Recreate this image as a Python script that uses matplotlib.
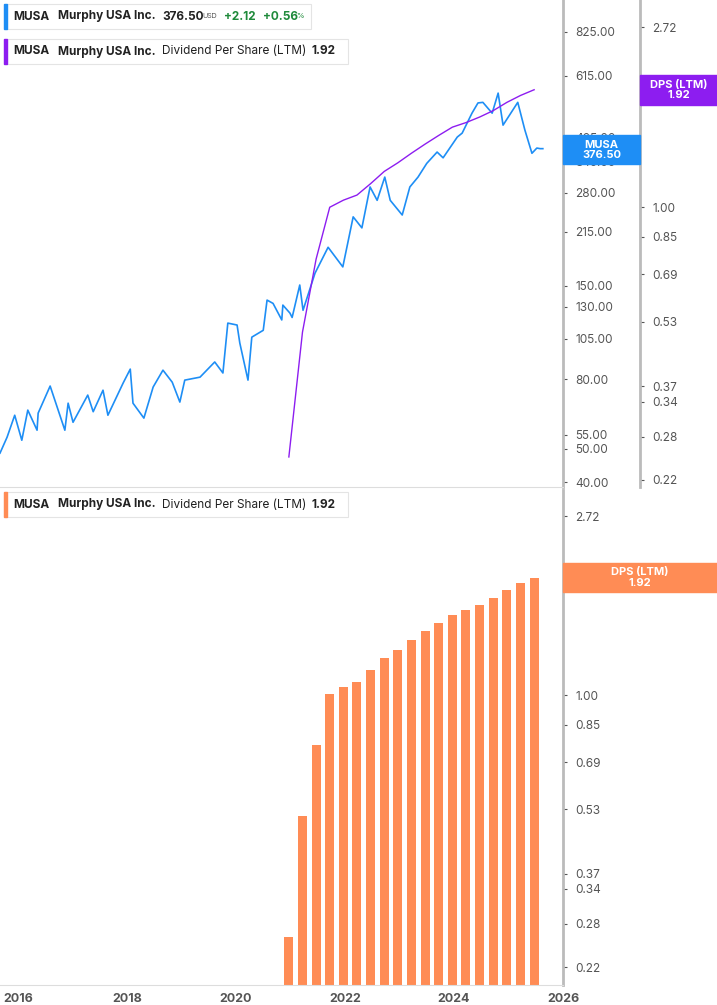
import matplotlib
matplotlib.use("Agg")
import matplotlib.pyplot as plt
from matplotlib.patches import Rectangle
from matplotlib.ticker import FixedLocator, NullLocator, FixedFormatter

plt.rcParams["font.family"] = "Inter"

# share price (approx)
price_dates = [2015.67, 2015.80, 2015.94, 2016.07, 2016.18, 2016.35, 2016.37, 2016.59, 2016.86, 2016.92,
               2017.01, 2017.28, 2017.38, 2017.56, 2017.65, 2017.93, 2018.06, 2018.11, 2018.31, 2018.48,
               2018.66, 2018.83, 2018.97, 2019.06, 2019.34, 2019.61, 2019.76, 2019.85, 2020.02, 2020.07,
               2020.22, 2020.29, 2020.50, 2020.57, 2020.68, 2020.84, 2020.86, 2020.99, 2021.03, 2021.17,
               2021.23, 2021.45, 2021.69, 2021.96, 2022.15, 2022.31, 2022.46, 2022.59, 2022.73, 2022.83,
               2023.05, 2023.19, 2023.34, 2023.50, 2023.69, 2023.80, 2024.06, 2024.15, 2024.33, 2024.44,
               2024.53, 2024.70, 2024.81, 2024.90, 2025.17, 2025.30, 2025.43, 2025.52, 2025.58, 2025.63]
price_values = [48.6, 54.1, 62.7, 53.0, 64.9, 56.7, 63.6, 76.3, 56.7, 68.0,
                59.8, 71.8, 64.2, 74.2, 62.7, 77.9, 85.5, 68.0, 61.5, 75.8,
                84.9, 78.3, 68.5, 79.4, 81.0, 89.7, 83.3, 116.5, 115.0, 101.9,
                79.4, 106.0, 111.0, 136.0, 133.0, 119.0, 131.5, 124.6, 121.0, 150.5,
                127.0, 163.0, 194.0, 170.0, 238.0, 221.0, 291.0, 266.0, 311.0, 266.0,
                241.0, 291.0, 311.0, 341.0, 368.0, 354.0, 407.0, 418.0, 478.0, 512.0,
                514.0, 478.0, 547.0, 441.0, 514.0, 427.0, 365.0, 378.0, 376.5, 376.5]

# dividend per share, LTM (quarterly)
dps_dates = [2020.97, 2021.22, 2021.47, 2021.72, 2021.97, 2022.22, 2022.47, 2022.72, 2022.97, 2023.22,
             2023.47, 2023.72, 2023.97, 2024.22, 2024.47, 2024.72, 2024.97, 2025.22, 2025.47]
dps_values = [0.25, 0.50, 0.75, 1.00, 1.04, 1.07, 1.14, 1.22, 1.28, 1.35,
              1.42, 1.49, 1.56, 1.60, 1.65, 1.71, 1.79, 1.86, 1.92]

price_ticks = [40, 50, 55, 80, 105, 130, 150, 215, 280, 345, 405, 615, 825]
dps_ticks = [0.22, 0.28, 0.34, 0.37, 0.53, 0.69, 0.85, 1.00, 2.00, 2.72]
year_ticks = [2016, 2018, 2020, 2022, 2024, 2026]

W, H = 717, 1005
BLUE, PURPLE, ORANGE = "#1e8ef5", "#8d1df0", "#ff8c55"
GRAY = "#555555"

fig = plt.figure(figsize=(W / 100, H / 100), dpi=100)


def fx(px):
    return px / W


def fy(py):
    return 1 - py / H


def style_right(ax, ticks, fmt):
    ax.set_yscale("log")
    ax.yaxis.tick_right()
    ax.yaxis.set_major_locator(FixedLocator(ticks))
    ax.yaxis.set_major_formatter(FixedFormatter([fmt.format(t) for t in ticks]))
    ax.yaxis.set_minor_locator(NullLocator())
    ax.tick_params(axis="y", which="major", length=3, color=GRAY, labelsize=8.5,
                   labelcolor=GRAY, pad=6, right=True, left=False, labelright=True, labelleft=False)


# top panel
ax1 = fig.add_axes([0, fy(487), fx(563), 487 / H])
ax1b = ax1.twinx()
ax1.plot(price_dates, price_values, color=BLUE, lw=1.2)
ax1.set_ylim(38.7, 1023)
ax1.set_xlim(2015.67, 2026.0)
style_right(ax1, price_ticks, "{:.2f}")
ax1.set_xticks([])
for s in ["left", "top"]:
    ax1.spines[s].set_visible(False)
ax1.spines["right"].set_color("#bbbbbb")
ax1.spines["right"].set_linewidth(2)
ax1.spines["bottom"].set_color("#dddddd")

ax1b.plot(dps_dates, dps_values, color=PURPLE, lw=1.0)
ax1b.set_ylim(0.2116, 3.16)
style_right(ax1b, dps_ticks, "{:.2f}")
ax1b.spines["right"].set_position(("axes", 640 / 563))
ax1b.spines["right"].set_color("#bbbbbb")
ax1b.spines["right"].set_linewidth(2)
for s in ["left", "top", "bottom"]:
    ax1b.spines[s].set_visible(False)

# bottom panel
ax2 = fig.add_axes([0, fy(985), fx(563), 495 / H])
ax2.bar(dps_dates, dps_values, width=0.165, color=ORANGE, bottom=0.01)
ax2.set_ylim(0.199, 3.145)
ax2.set_xlim(2015.67, 2026.0)
style_right(ax2, dps_ticks, "{:.2f}")
ax2.set_xticks(year_ticks)
ax2.set_xticklabels([str(y) for y in year_ticks], fontweight="bold", color=GRAY, fontsize=9)
ax2.tick_params(axis="x", length=0, pad=6)
for s in ["left", "top"]:
    ax2.spines[s].set_visible(False)
ax2.spines["right"].set_color("#bbbbbb")
ax2.spines["right"].set_linewidth(2)
ax2.spines["bottom"].set_color("#dddddd")


# value flags on the axes
def flag(x0, y0, w, h, color, text):
    fig.patches.append(Rectangle((fx(x0), fy(y0 + h)), w / W, h / H, transform=fig.transFigure,
                                 color=color, zorder=5))
    fig.text(fx(x0 + w / 2), fy(y0 + h / 2), text, ha="center", va="center", color="white",
             fontsize=8, fontweight="bold", linespacing=1.0, zorder=6)


flag(563, 135, 77, 29, BLUE, "MUSA\n376.50")
flag(640, 75, 77, 30, PURPLE, "DPS (LTM)\n1.92")
flag(563, 563, 154, 29, ORANGE, "DPS (LTM)\n1.92")


# legend boxes
def legend_box(x0, y0, w, h, color, parts):
    fig.patches.append(Rectangle((fx(x0), fy(y0 + h)), w / W, h / H, transform=fig.transFigure,
                                 facecolor="white", edgecolor="#e4e4e4", lw=0.8, zorder=5))
    fig.patches.append(Rectangle((fx(x0), fy(y0 + h)), 3 / W, h / H, transform=fig.transFigure,
                                 color=color, zorder=6))
    for px, txt, kw in parts:
        opts = {"fontsize": 8.5, "color": "#222222"}
        opts.update(kw)
        fig.text(fx(px), fy(y0 + h / 2), txt, va="center", ha="left", zorder=7, **opts)


bold = {"fontweight": "bold"}
norm = {}
green = {"fontweight": "bold", "color": "#1f8a3b"}
legend_box(4, 4, 307, 25, BLUE, [
    (13, "MUSA", bold), (58, "Murphy USA Inc.", bold), (162, "376.50", bold),
    (202, "USD", {"color": GRAY, "fontsize": 5}), (224, "+2.12", green), (263, "+0.56", green),
    (296, "%", {"color": "#1f8a3b", "fontsize": 5.5}),
])
legend_box(4, 39, 344, 25, PURPLE, [
    (13, "MUSA", bold), (58, "Murphy USA Inc.", bold), (162, "Dividend Per Share (LTM)", norm),
    (311, "1.92", bold),
])
legend_box(4, 492, 344, 25, ORANGE, [
    (13, "MUSA", bold), (58, "Murphy USA Inc.", bold), (162, "Dividend Per Share (LTM)", norm),
    (311, "1.92", bold),
])

fig.savefig("out.png", dpi=100)
